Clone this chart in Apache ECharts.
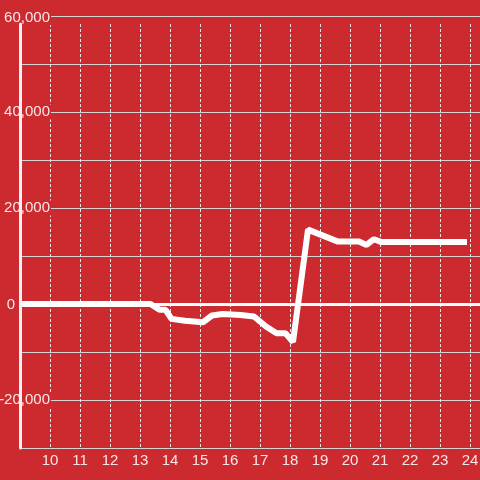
<!DOCTYPE html>
<html>
<head>
<meta charset="utf-8">
<script src="https://cdn.jsdelivr.net/npm/echarts@6/dist/echarts.min.js"></script>
<style>
html,body{margin:0;padding:0;background:#cc2a2f;}
#c{width:480px;height:480px;}
</style>
</head>
<body>
<div id="c"></div>
<script>
// Data
const times  = [9, 13.35, 13.65, 13.85, 14.05, 14.5, 15.1, 15.4, 15.75, 16.35, 16.8, 17.2, 17.55, 17.85, 18.1, 18.6, 19.6, 20.3, 20.55, 20.8, 21.05, 23.9];
const values = [0, 0, -1200, -1200, -3100, -3500, -3800, -2400, -2100, -2300, -2600, -4700, -6100, -6100, -7900, 15500, 13000, 13000, 12300, 13500, 12900, 12900];
const yLabelValues = [60000, 40000, 20000, 0, -20000];
const xMin = 9, xMax = 24.3333;
const yMin = -30000, yMax = 60000;

const BG = '#cc2a2f';
const TXT = 'rgba(255,255,255,0.88)';
const FONT = "'Liberation Sans', Arial, sans-serif";

const chart = echarts.init(document.getElementById('c'), null, {renderer: 'canvas'});
chart.setOption({
  backgroundColor: BG,
  animation: false,
  grid: [
    {left: 20, right: 0, top: 16, bottom: 32, containLabel: false, outerBoundsMode: 'none'},
    {left: 20, right: 0, top: 24, bottom: 32, containLabel: false, outerBoundsMode: 'none'}
  ],
  xAxis: [
    {
      gridIndex: 0, type: 'value', position: 'bottom', min: xMin, max: xMax, interval: 1,
      axisLine: {show: false, onZero: false}, axisTick: {show: false},
      splitLine: {show: false},
      axisLabel: {showMinLabel: false, showMaxLabel: false, color: TXT, fontSize: 15, fontFamily: FONT, margin: 5}
    },
    {
      gridIndex: 1, type: 'value', position: 'bottom', min: xMin, max: xMax, interval: 1,
      axisLine: {show: false, onZero: false}, axisTick: {show: false}, axisLabel: {show: false},
      splitLine: {show: true, showMinLine: false, showMaxLine: false, lineStyle: {color: '#e8e8e8', width: 1, type: [3, 2]}}
    }
  ],
  yAxis: [
    {
      gridIndex: 0, type: 'value', position: 'left', min: yMin, max: yMax, interval: 10000, z: 0,
      axisLine: {show: false, onZero: false}, axisTick: {show: false}, axisLabel: {show: false},
      splitLine: {show: true, lineStyle: {color: '#d4d4d4', width: 1}}
    },
    {
      gridIndex: 0, type: 'value', position: 'left', offset: 0, min: yMin, max: yMax, interval: 10000, z: 5,
      axisLine: {show: false, onZero: false}, axisTick: {show: false}, splitLine: {show: false},
      axisLabel: {
        inside: true, margin: 31, align: 'right',
        formatter: function (v) {
          if (yLabelValues.indexOf(v) < 0) return '';
          if (v === 0) return '{z|0}';
          if (v === yMax) return '{t|' + v.toLocaleString('en-US') + '}';
          return '{a|' + v.toLocaleString('en-US') + '}';
        },
        rich: {
          a: {color: TXT, fontSize: 15, fontFamily: FONT, backgroundColor: BG, padding: [0, 1, 0, 2]},
          t: {color: TXT, fontSize: 15, fontFamily: FONT, backgroundColor: BG, padding: [3, 1, 0, 2]},
          z: {color: TXT, fontSize: 15, fontFamily: FONT, padding: [1, 36, 0, 0]}
        }
      }
    },
    {
      gridIndex: 1, type: 'value', position: 'left', min: yMin, max: yMax, interval: 10000, z: 6,
      axisLine: {show: true, onZero: false, lineStyle: {color: '#f2f2f2', width: 3}},
      axisTick: {show: false}, axisLabel: {show: false}, splitLine: {show: false}
    }
  ],
  series: [
    {
      type: 'line', xAxisIndex: 0, yAxisIndex: 0, z: 3,
      data: times.map((t, i) => [t, values[i]]),
      symbol: 'none', smooth: false,
      lineStyle: {color: '#ffffff', width: 6},
      markLine: {
        silent: true, symbol: 'none', label: {show: false},
        lineStyle: {color: '#ffffff', width: 3, type: 'solid'},
        data: [{yAxis: 0}]
      }
    }
  ]
});
</script>
</body>
</html>
